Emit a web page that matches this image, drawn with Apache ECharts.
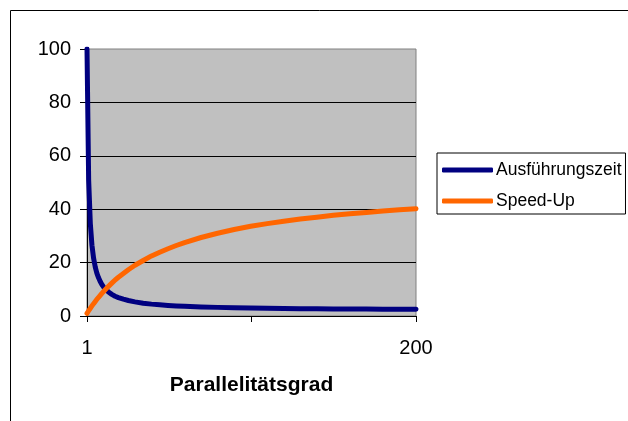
<!DOCTYPE html>
<html>
<head>
<meta charset="utf-8">
<script src="https://cdn.jsdelivr.net/npm/echarts@6/dist/echarts.min.js"></script>
<style>
  html, body { margin: 0; padding: 0; background: #fff; }
  #chart { width: 628px; height: 421px; }
</style>
</head>
<body>
<div id="chart"></div>
<script>
// Degree of parallelism (x positions of the sampled points)
const parallelism = [1, 2, 3, 4, 5, 6, 7, 8, 9, 10, 11, 12, 14, 16, 18, 20, 23, 26, 30, 35, 40, 45, 50, 55, 60, 70, 80, 90, 100, 110, 120, 130, 140, 150, 160, 170, 180, 190, 200];
// Execution time (percent of the sequential run)
const executionTime = [100, 51, 34.7, 26.5, 21.6, 18.3, 16.0, 14.3, 12.9, 11.8, 10.9, 10.2, 9.0, 8.1, 7.4, 6.9, 6.3, 5.8, 5.3, 4.8, 4.45, 4.18, 3.96, 3.78, 3.63, 3.4, 3.23, 3.09, 2.98, 2.89, 2.82, 2.75, 2.7, 2.65, 2.61, 2.58, 2.54, 2.52, 2.49];
// Speed-up relative to one processor
const speedUp = [1, 1.96, 2.88, 3.77, 4.63, 5.45, 6.25, 7.02, 7.76, 8.47, 9.17, 9.84, 11.1, 12.3, 13.5, 14.5, 15.9, 17.3, 19.0, 20.8, 22.5, 23.9, 25.2, 26.4, 27.5, 29.4, 31.0, 32.4, 33.6, 34.6, 35.5, 36.3, 37.0, 37.7, 38.3, 38.8, 39.3, 39.8, 40.2];
// Axis ticks and labels
const yTicks = [0, 20, 40, 60, 80, 100];
const xTickValues = [1, 100.5, 200];
const xLabelValues = [1, 200];

const seriesNames = ['Ausführungszeit', 'Speed-Up'];
const seriesColors = ['#000080', '#FF6600'];

const pairs = (ys) => parallelism.map((x, i) => [x, ys[i]]);

const chart = echarts.init(document.getElementById('chart'), null, { renderer: 'canvas' });
const font = 'Arial, "Liberation Sans", sans-serif';

chart.setOption({
  animation: false,
  backgroundColor: '#ffffff',
  textStyle: { fontFamily: font },
  graphic: [{
    type: 'rect',
    shape: { x: 10.5, y: 10.5, width: 700, height: 500 },
    style: { fill: 'none', stroke: '#000', lineWidth: 1 },
    silent: true,
    z: 100
  }],
  grid: {
    left: 87, top: 49, right: 212, bottom: 105,
    show: true,
    backgroundColor: '#C0C0C0',
    borderColor: '#808080',
    borderWidth: 1
  },
  legend: {
    left: 437, top: 153,
    orient: 'vertical',
    data: seriesNames.map((n) => ({ name: n, icon: 'roundRect' })),
    itemWidth: 51, itemHeight: 5,
    itemGap: 13,
    padding: [8, 4, 4, 5],
    borderColor: '#000', borderWidth: 1,
    backgroundColor: '#fff',
    textStyle: { fontSize: 17.5, color: '#000', fontFamily: font, padding: [0, 0, 0, -2] }
  },
  xAxis: {
    type: 'value',
    min: 1, max: 200,
    name: 'Parallelitätsgrad',
    nameLocation: 'middle',
    nameGap: 59,
    nameTextStyle: { fontSize: 21, fontWeight: 'bold', color: '#000', fontFamily: font },
    axisLine: { show: true, onZero: false, lineStyle: { color: '#000', width: 1 } },
    axisTick: { show: true, length: 6, customValues: xTickValues, lineStyle: { color: '#000' } },
    axisLabel: { customValues: xLabelValues, fontSize: 20, color: '#000', margin: 22, fontFamily: font },
    splitLine: { show: false }
  },
  yAxis: {
    type: 'value',
    min: yTicks[0], max: yTicks[yTicks.length - 1], interval: 20,
    axisLine: { show: true, lineStyle: { color: '#000', width: 1 } },
    axisTick: { show: true, length: 7, lineStyle: { color: '#000' } },
    axisLabel: { fontSize: 20, color: '#000', margin: 16, fontFamily: font },
    splitLine: { show: true, showMaxLine: false, lineStyle: { color: '#000', width: 1 } }
  },
  series: [
    {
      name: seriesNames[0], type: 'line', data: pairs(executionTime),
      showSymbol: false, smooth: false,
      lineStyle: { color: seriesColors[0], width: 5, join: 'round', cap: 'round' }, itemStyle: { color: seriesColors[0] }
    },
    {
      name: seriesNames[1], type: 'line', data: pairs(speedUp),
      showSymbol: false, smooth: false,
      lineStyle: { color: seriesColors[1], width: 5, join: 'round', cap: 'round' }, itemStyle: { color: seriesColors[1] }
    }
  ]
});
</script>
</body>
</html>
